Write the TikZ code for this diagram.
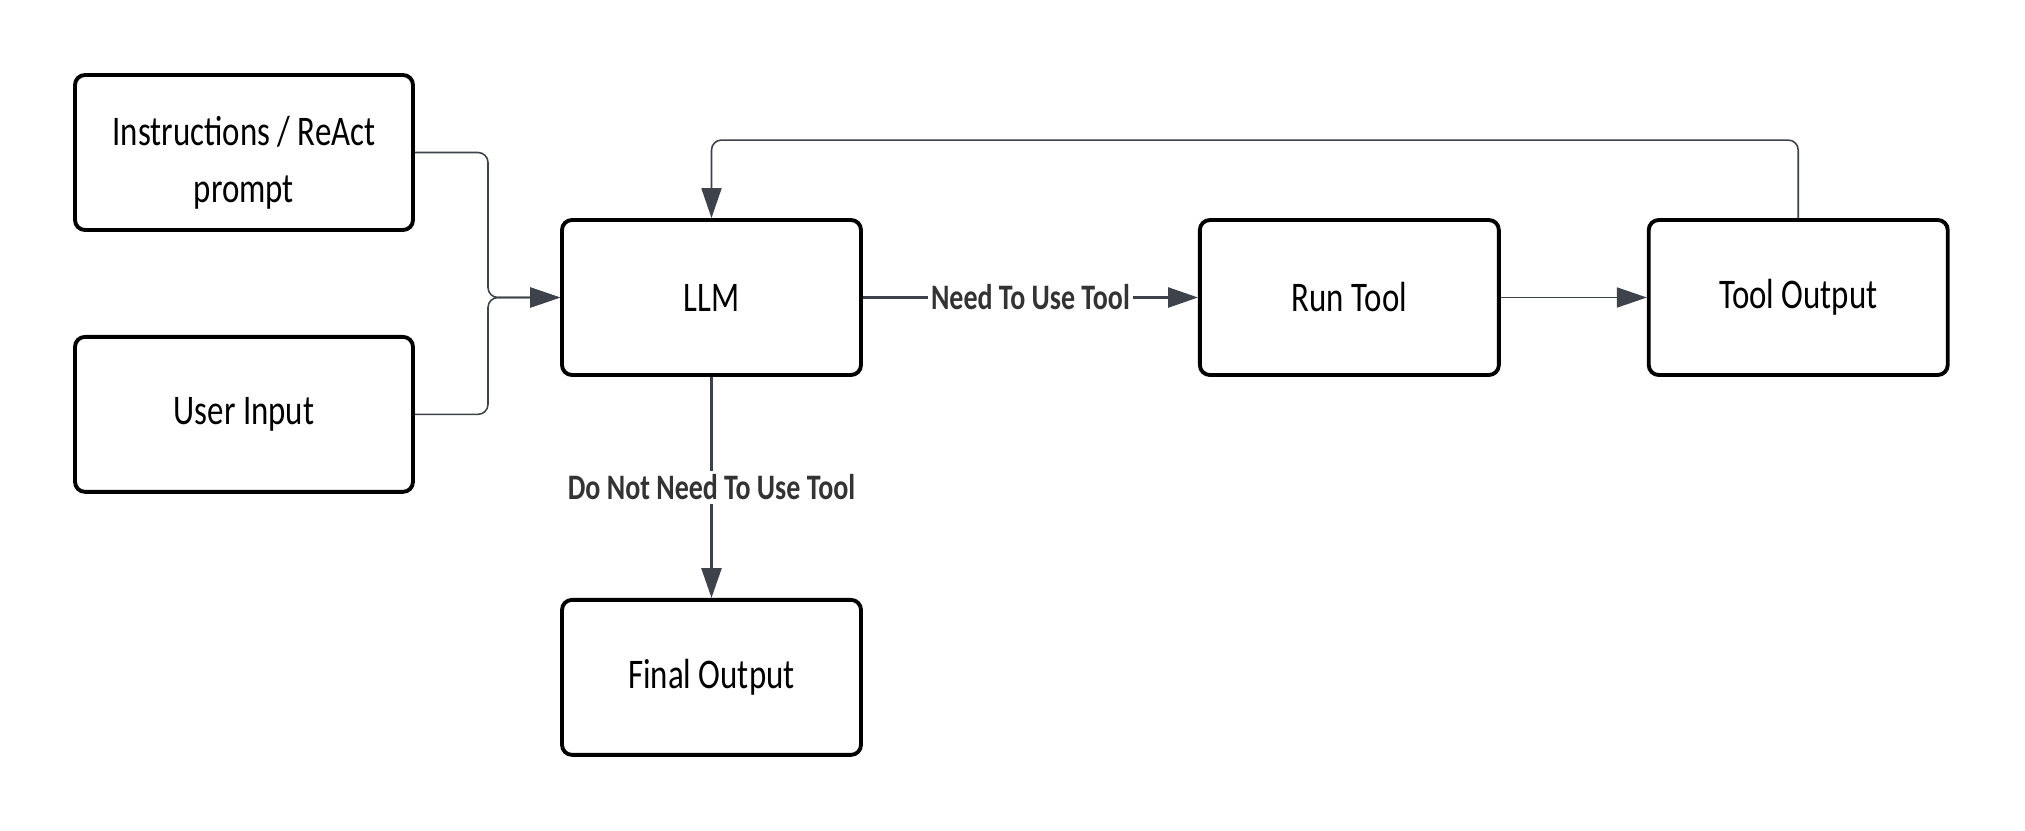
\documentclass[tikz,border=0pt]{standalone}
\usepackage{fontspec}
\setmainfont{Carlito}[FakeStretch=0.78]
\usepackage{xcolor}
\usetikzlibrary{positioning, arrows.meta}
\definecolor{edgegray}{HTML}{3D424B}
\definecolor{labelgray}{HTML}{333333}

\begin{document}
\begin{tikzpicture}[
    node distance=1cm,
    procbox/.style={rectangle, draw=black, line width=1.1pt, rounded corners=0.1cm, fill=white, minimum width=2.99cm, minimum height=1.55cm, align=center, font=\fontsize{12}{16}\selectfont},
    inbox/.style={procbox, minimum width=3.38cm},
    flow/.style={-{Triangle[length=8.5pt, width=5.7pt]}, draw=edgegray, line width=0.45pt},
    edgelabel/.style={fill=white, inner sep=1pt, text=labelgray, font=\fontsize{10.2}{12}\selectfont\bfseries}
]
\useasboundingbox (0,0) rectangle (20.25,-8.31);

% Inputs
\node[inbox] (instr) at (2.44,-1.525) {\rule{0pt}{0.5cm}Instructions / ReAct\\prompt};
\node[inbox, below=1.03cm of instr] (user) {User Input};

% Model
\node[procbox] (llm) at (7.115,-2.975) {LLM};
\node[procbox, below=2.21cm of llm] (final) {Final Output};

% Tool loop
\node[procbox, right=3.35cm of llm] (run) {Run Tool};
\node[procbox, right=1.46cm of run] (toolout) {Tool Output};

% Arrows
\coordinate (merge) at (4.88,-2.975);
\draw[flow, rounded corners=0.1cm] (instr.east) -| (merge) -- (llm.west);
\draw[flow, rounded corners=0.1cm] (user.east) -| (merge) -- (llm.west);
\draw[flow, line width=0.7pt] (llm) -- node[edgelabel] {Need To Use Tool} (run);
\draw[flow] (run) -- (toolout);
\draw[flow, rounded corners=0.1cm] (toolout.north) -- ++(0,0.78) -| (llm.north);
\draw[flow, line width=0.7pt] (llm) -- node[edgelabel] {Do Not Need To Use Tool} (final);

\end{tikzpicture}
\end{document}
